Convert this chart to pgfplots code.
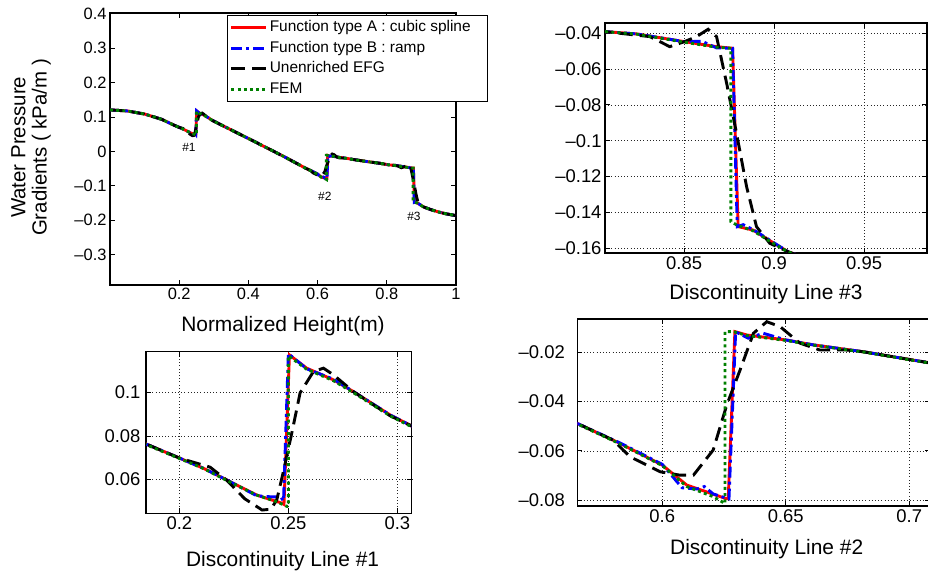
\documentclass[border=0pt]{standalone}
\usepackage{fontspec}
\setmainfont{Liberation Sans}
\usepackage{pgfplots}
\usepackage{pgfplotstable}
\pgfplotsset{compat=1.18}
\definecolor{mred}{RGB}{255,0,0}
\definecolor{mblue}{RGB}{0,0,255}
\definecolor{mgreen}{RGB}{0,128,0}

% Function type A : cubic spline
\pgfplotstableread{
x y
0.0000 0.1205
0.0500 0.1175
0.1000 0.1085
0.1500 0.0930
0.1847 0.0763
0.2003 0.0697
0.2110 0.0651
0.2217 0.0597
0.2355 0.0527
0.2470 0.0490
0.2480 0.0484
0.2505 0.1174
0.2584 0.1113
0.2707 0.1059
0.2798 0.1005
0.2967 0.0897
0.3066 0.0846
0.3500 0.0625
0.4000 0.0375
0.4500 0.0120
0.5000 -0.0135
0.5500 -0.0405
0.5656 -0.0489
0.5829 -0.0570
0.6000 -0.0658
0.6099 -0.0739
0.6206 -0.0776
0.6258 -0.0794
0.6267 -0.0794
0.6294 -0.0116
0.6342 -0.0130
0.6500 -0.0150
0.6611 -0.0170
0.6814 -0.0198
0.7076 -0.0242
0.7500 -0.0305
0.7800 -0.0345
0.8059 -0.0391
0.8236 -0.0404
0.8500 -0.0447
0.8680 -0.0475
0.8769 -0.0484
0.8800 -0.1479
0.8883 -0.1498
0.9000 -0.1572
0.9078 -0.1619
0.9300 -0.1700
0.9500 -0.1760
0.9700 -0.1810
1.0000 -0.1865
}\tA

% Function type B : ramp
\pgfplotstableread{
x y
0.0000 0.1205
0.0500 0.1175
0.1000 0.1085
0.1500 0.0930
0.1847 0.0763
0.2003 0.0697
0.2110 0.0651
0.2217 0.0597
0.2355 0.0524
0.2400 0.0520
0.2465 0.0518
0.2478 0.0500
0.2500 0.1180
0.2584 0.1110
0.2707 0.1062
0.2798 0.1005
0.2967 0.0897
0.3066 0.0846
0.3500 0.0625
0.4000 0.0375
0.4500 0.0120
0.5000 -0.0135
0.5500 -0.0405
0.5656 -0.0489
0.5829 -0.0568
0.6000 -0.0655
0.6080 -0.0750
0.6140 -0.0755
0.6170 -0.0745
0.6206 -0.0775
0.6258 -0.0792
0.6270 -0.0795
0.6297 -0.0117
0.6348 -0.0143
0.6409 -0.0123
0.6500 -0.0150
0.6611 -0.0170
0.6814 -0.0198
0.7076 -0.0242
0.7500 -0.0305
0.7800 -0.0345
0.8059 -0.0391
0.8236 -0.0404
0.8500 -0.0447
0.8600 -0.0445
0.8680 -0.0482
0.8769 -0.0484
0.8795 -0.1479
0.8828 -0.1468
0.8883 -0.1495
0.9000 -0.1570
0.9078 -0.1619
0.9300 -0.1700
0.9500 -0.1760
0.9700 -0.1810
1.0000 -0.1865
}\tB

% Unenriched EFG
\pgfplotstableread{
x y
0.0000 0.1205
0.0500 0.1175
0.1000 0.1085
0.1500 0.0930
0.1847 0.0763
0.2003 0.0697
0.2141 0.0656
0.2217 0.0596
0.2300 0.0510
0.2380 0.0458
0.2420 0.0462
0.2447 0.0505
0.2476 0.0630
0.2516 0.0814
0.2554 0.0999
0.2615 0.1097
0.2661 0.1113
0.2707 0.1082
0.2798 0.1005
0.2967 0.0893
0.3066 0.0846
0.3500 0.0625
0.4000 0.0375
0.4500 0.0120
0.5000 -0.0135
0.5500 -0.0405
0.5656 -0.0489
0.5802 -0.0557
0.5869 -0.0624
0.5991 -0.0685
0.6072 -0.0699
0.6126 -0.0699
0.6206 -0.0597
0.6261 -0.0414
0.6315 -0.0272
0.6369 -0.0123
0.6423 -0.0076
0.6477 -0.0096
0.6557 -0.0163
0.6638 -0.0191
0.6746 -0.0191
0.6814 -0.0198
0.7076 -0.0242
0.7500 -0.0305
0.7800 -0.0345
0.8059 -0.0391
0.8309 -0.0419
0.8420 -0.0475
0.8494 -0.0450
0.8569 -0.0419
0.8633 -0.0378
0.8680 -0.0419
0.8736 -0.0679
0.8791 -0.0958
0.8847 -0.1256
0.8902 -0.1479
0.8976 -0.1572
0.9078 -0.1619
0.9300 -0.1700
0.9500 -0.1760
0.9700 -0.1810
1.0000 -0.1865
}\tE

% FEM
\pgfplotstableread{
x y
0.0000 0.1205
0.0500 0.1175
0.1000 0.1085
0.1500 0.0930
0.1847 0.0760
0.2003 0.0695
0.2110 0.0650
0.2217 0.0595
0.2355 0.0527
0.2450 0.0495
0.2493 0.0475
0.2500 0.0475
0.2500 0.1170
0.2584 0.1108
0.2707 0.1055
0.2798 0.1000
0.2967 0.0893
0.3066 0.0842
0.3500 0.0625
0.4000 0.0375
0.4500 0.0120
0.5000 -0.0135
0.5500 -0.0405
0.5656 -0.0491
0.5829 -0.0572
0.6000 -0.0660
0.6099 -0.0745
0.6206 -0.0786
0.6254 -0.0814
0.6254 -0.0116
0.6287 -0.0116
0.6342 -0.0132
0.6500 -0.0152
0.6611 -0.0171
0.6814 -0.0199
0.7076 -0.0243
0.7500 -0.0305
0.7800 -0.0345
0.8059 -0.0391
0.8236 -0.0405
0.8500 -0.0450
0.8680 -0.0478
0.8760 -0.0484
0.8760 -0.1451
0.8793 -0.1470
0.8883 -0.1502
0.9000 -0.1575
0.9078 -0.1620
0.9300 -0.1700
0.9500 -0.1760
0.9700 -0.1810
1.0000 -0.1865
}\tG

\pgfplotsset{
  sA/.style={mred, line width=2.9bp, solid},
  sB/.style={mblue, line width=2.9bp, dash pattern=on 11bp off 4bp on 3bp off 4bp},
  sE/.style={black, line width=2.9bp, dash pattern=on 14bp off 7bp},
  sG/.style={mgreen, line width=2.9bp, dash pattern=on 3bp off 3.2bp},
  base/.style={
    scale only axis, anchor=south west,
    scaled ticks=false,
    tick align=inside, tick pos=both,
    major tick length=5bp,
    axis line style={line width=1.1bp, black},
    every tick/.style={black, line width=0.9bp},
    tick label style={font=\fontsize{18.5}{18.5}\selectfont},
    xlabel style={font=\fontsize{21}{21}\selectfont, anchor=base},
  },
  inset/.style={base,
    grid=major,
    major grid style={black!85, line width=0.6bp, dash pattern=on 0.7bp off 2.5bp},
  },
}

\begin{document}
\begin{tikzpicture}
\useasboundingbox (0bp,0bp) rectangle (928bp,574bp);

% ---------- main plot ----------
\begin{axis}[base,
  at={(110bp,289bp)}, width=346bp, height=272bp,
  xmin=0, xmax=1, ymin=-0.388, ymax=0.402,
  xtick={0.2,0.4,0.6,0.8,1},
  xticklabels={0.2,0.4,0.6,0.8,1},
  ytick={-0.3,-0.2,-0.1,0,0.1,0.2,0.3,0.4},
  yticklabels={\textendash0.3,\textendash0.2,\textendash0.1,0,0.1,0.2,0.3,0.4},
  tick label style={font=\fontsize{16.5}{16.5}\selectfont},
  xlabel={Normalized Height(m)},
  xlabel style={at={(axis description cs:0.5,-0.1717)}},
  ylabel={Water Pressure\\Gradients ( kPa/m )},
  ylabel style={font=\fontsize{20.5}{21.5}\selectfont, align=center, at={(axis description cs:-0.228,0.506)}, anchor=center},
  legend cell align=left,
  legend style={at={(axis description cs:0.338,0.993)}, anchor=north west,
    draw=black, line width=0.9bp, fill=white,
    inner xsep=2.5bp, inner ysep=2.5bp, row sep=1.7bp,
    font=\fontsize{15.5}{15.5}\selectfont,
    nodes={inner sep=2bp, text height=11.5bp, text depth=3.5bp}},
  legend image code/.code={\draw[#1] (0bp,0bp) -- (35bp,0bp);},
]
\addplot[sA] table {\tA};
\addlegendentry{\makebox[213bp][l]{Function type A : cubic spline}}
\addplot[sB] table {\tB};
\addlegendentry{Function type B : ramp}
\addplot[sE] table {\tE};
\addlegendentry{Unenriched EFG}
\addplot[sG] table {\tG};
\addlegendentry{FEM}
\node[font=\fontsize{12}{12}\selectfont] at (axis cs:0.2283,0.012) {\#1};
\node[font=\fontsize{12}{12}\selectfont] at (axis cs:0.621,-0.1305) {\#2};
\node[font=\fontsize{12}{12}\selectfont] at (axis cs:0.8786,-0.1887) {\#3};
\end{axis}

% ---------- Discontinuity Line #3 ----------
\begin{axis}[inset,
  at={(605bp,321bp)}, width=322bp, height=230bp,
  xmin=0.806, xmax=0.985, ymin=-0.1626, ymax=-0.0343,
  xtick={0.85,0.9,0.95}, xticklabels={0.85,0.9,0.95},
  ytick={-0.16,-0.14,-0.12,-0.1,-0.08,-0.06,-0.04},
  yticklabels={\textendash0.16,\textendash0.14,\textendash0.12,\textendash0.1,\textendash0.08,\textendash0.06,\textendash0.04},
  xlabel={Discontinuity Line \#3},
  xlabel style={at={(axis description cs:0.5,-0.2043)}},
]
\addplot[sA] table {\tA};
\addplot[sB] table {\tB};
\addplot[sE] table {\tE};
\addplot[sG] table {\tG};
\end{axis}

% ---------- Discontinuity Line #1 ----------
\begin{axis}[inset,
  at={(146bp,60.7bp)}, width=265.7bp, height=161.6bp,
  xmin=0.1847, xmax=0.3066, ymin=0.0443, ymax=0.1189,
  xtick={0.2,0.25,0.3}, xticklabels={0.2,0.25,0.3},
  ytick={0.06,0.08,0.1}, yticklabels={0.06,0.08,0.1},
  yticklabel style={xshift=-2bp},
  xlabel={Discontinuity Line \#1},
  xlabel style={at={(axis description cs:0.514,-0.330)}},
]
\addplot[sA] table {\tA};
\addplot[sB] table {\tB};
\addplot[sE] table {\tE};
\addplot[sG] table {\tG};
\end{axis}

% ---------- Discontinuity Line #2 ----------
\begin{axis}[inset,
  at={(577.3bp,68bp)}, width=352.7bp, height=187bp,
  xmin=0.5656, xmax=0.7084, ymin=-0.0824, ymax=-0.0065,
  xtick={0.6,0.65,0.7}, xticklabels={0.6,0.65,0.7},
  ytick={-0.08,-0.06,-0.04,-0.02},
  yticklabels={\textendash0.08,\textendash0.06,\textendash0.04,\textendash0.02},
  yticklabel style={xshift=-9bp},
  xlabel={Discontinuity Line \#2},
  xlabel style={at={(axis description cs:0.537,-0.262)}},
]
\addplot[sA] table {\tA};
\addplot[sB] table {\tB};
\addplot[sE] table {\tE};
\addplot[sG] table {\tG};
\end{axis}
\end{tikzpicture}
\end{document}
